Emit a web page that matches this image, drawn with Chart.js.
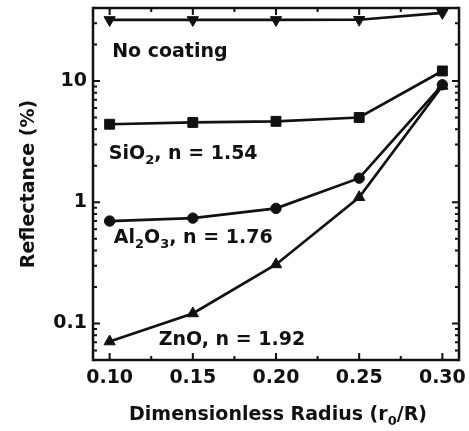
<!DOCTYPE html>
<html>
<head>
<meta charset="utf-8">
<script src="https://cdn.jsdelivr.net/npm/chart.js@4"></script>
<style>
  html, body { margin: 0; padding: 0; background: #fff; }
  #wrap { width: 469px; height: 431px; }
</style>
</head>
<body>
<div id="wrap"><canvas id="chart" width="469" height="431"></canvas></div>
<script>
// data
const radius = [0.10, 0.15, 0.20, 0.25, 0.30];
const noCoating = [31.9, 31.9, 31.9, 32.0, 36.5];
const sio2 = [4.4, 4.55, 4.65, 5.0, 12.1];
const al2o3 = [0.70, 0.74, 0.89, 1.58, 9.3];
const zno = [0.071, 0.121, 0.307, 1.1, 9.1];

const xTicks = [0.10, 0.15, 0.20, 0.25, 0.30];
const xMinorTicks = [0.125, 0.175, 0.225, 0.275];
const yTicks = [0.1, 1, 10];
const yMinorTicks = [0.05, 0.06, 0.07, 0.08, 0.09, 0.2, 0.3, 0.4, 0.5, 0.6, 0.7, 0.8, 0.9,
                     2, 3, 4, 5, 6, 7, 8, 9, 20, 30, 40];

// labels inside the plot: anchor in data units, then text pieces (1 = subscript)
const curveLabels = [
  { x: 0.1015, y: 15.8, parts: [['No coating', 0]] },
  { x: 0.0995, y: 2.26, parts: [['SiO', 0], ['2', 1], [', n = 1.54', 0]] },
  { x: 0.1025, y: 0.46, parts: [['Al', 0], ['2', 1], ['O', 0], ['3', 1], [', n = 1.76', 0]] },
  { x: 0.1295, y: 0.066, parts: [['ZnO, n = 1.92', 0]] }
];

const ink = '#111';
const font = 'DejaVu Sans';

function drawParts(ctx, parts, px, py) {
  parts.forEach(p => {
    ctx.font = p[1] ? 'bold 13px "' + font + '"' : 'bold 19px "' + font + '"';
    ctx.fillText(p[0], px, py + (p[1] ? 5 : 0));
    px += ctx.measureText(p[0]).width;
  });
}

// frame, inward ticks and curve labels
const framePlugin = {
  id: 'frame',
  afterDraw(chart) {
    const ctx = chart.ctx;
    const a = chart.chartArea;
    const xs = chart.scales.x, ys = chart.scales.y;
    ctx.save();
    ctx.strokeStyle = ink;
    ctx.lineWidth = 2;
    xTicks.concat(xMinorTicks).forEach(v => {
      const px = xs.getPixelForValue(v);
      const len = xTicks.includes(v) ? 7 : 4;
      ctx.beginPath();
      ctx.moveTo(px, a.bottom); ctx.lineTo(px, a.bottom - len);
      ctx.moveTo(px, a.top); ctx.lineTo(px, a.top + len);
      ctx.stroke();
    });
    yTicks.concat(yMinorTicks).forEach(v => {
      const py = ys.getPixelForValue(v);
      const len = yTicks.includes(v) ? 7 : 4;
      ctx.beginPath();
      ctx.moveTo(a.left, py); ctx.lineTo(a.left + len, py);
      ctx.moveTo(a.right, py); ctx.lineTo(a.right - len, py);
      ctx.stroke();
    });
    ctx.lineWidth = 2.5;
    ctx.strokeRect(a.left, a.top, a.right - a.left, a.bottom - a.top);

    ctx.fillStyle = ink;
    ctx.textBaseline = 'alphabetic';
    ctx.textAlign = 'left';
    curveLabels.forEach(lab => {
      drawParts(ctx, lab.parts, xs.getPixelForValue(lab.x), ys.getPixelForValue(lab.y));
    });

    // x axis title with subscript
    const parts = [['Dimensionless Radius (r', 0], ['0', 1], ['/R)', 0]];
    let w = 0;
    parts.forEach(p => {
      ctx.font = p[1] ? 'bold 13px "' + font + '"' : 'bold 19px "' + font + '"';
      w += ctx.measureText(p[0]).width;
    });
    drawParts(ctx, parts, (a.left + a.right) / 2 - w / 2 + 2, 420);
    ctx.restore();
  }
};

function series(label, values, style, r, rot) {
  return {
    label: label,
    data: radius.map((x, i) => ({ x: x, y: values[i] })),
    borderColor: ink,
    backgroundColor: ink,
    borderWidth: 2.7,
    pointStyle: style,
    pointRadius: r,
    pointRotation: rot || 0,
    pointBorderWidth: 1,
    tension: 0
  };
}

function noPad(scale) {
  scale.paddingTop = 0;
  scale.paddingBottom = 0;
  scale.paddingLeft = 0;
  scale.paddingRight = 0;
}

new Chart(document.getElementById('chart'), {
  type: 'line',
  data: {
    datasets: [
      series('No coating', noCoating, 'triangle', 6.5, 180),
      series('SiO2', sio2, 'rect', 7),
      series('Al2O3', al2o3, 'circle', 5.2),
      series('ZnO', zno, 'triangle', 6.5)
    ]
  },
  options: {
    responsive: false,
    animation: false,
    layout: { padding: { top: 7, right: 10, left: 0, bottom: 0 } },
    plugins: { legend: { display: false }, tooltip: { enabled: false } },
    scales: {
      x: {
        type: 'linear',
        min: 0.09,
        max: 0.31,
        afterFit(scale) { scale.height = 71; noPad(scale); },
        afterBuildTicks(scale) { scale.ticks = xTicks.map(v => ({ value: v })); },
        grid: { display: false, drawTicks: false },
        border: { display: false },
        ticks: {
          color: ink,
          padding: 7,
          autoSkip: false,
          maxRotation: 0,
          font: { family: font, weight: 'bold', size: 19 },
          callback: v => v.toFixed(2)
        }
      },
      y: {
        type: 'logarithmic',
        min: 0.05,
        max: 40,
        afterFit(scale) { scale.width = 93; noPad(scale); },
        afterBuildTicks(scale) { scale.ticks = yTicks.map(v => ({ value: v })); },
        grid: { display: false, drawTicks: false },
        border: { display: false },
        ticks: {
          color: ink,
          padding: 6,
          autoSkip: false,
          font: { family: font, weight: 'bold', size: 19 },
          callback: v => String(v)
        },
        title: {
          display: true,
          text: 'Reflectance (%)',
          color: ink,
          padding: { top: 18, bottom: 0 },
          font: { family: font, weight: 'bold', size: 19 }
        }
      }
    }
  },
  plugins: [framePlugin]
});
</script>
</body>
</html>
